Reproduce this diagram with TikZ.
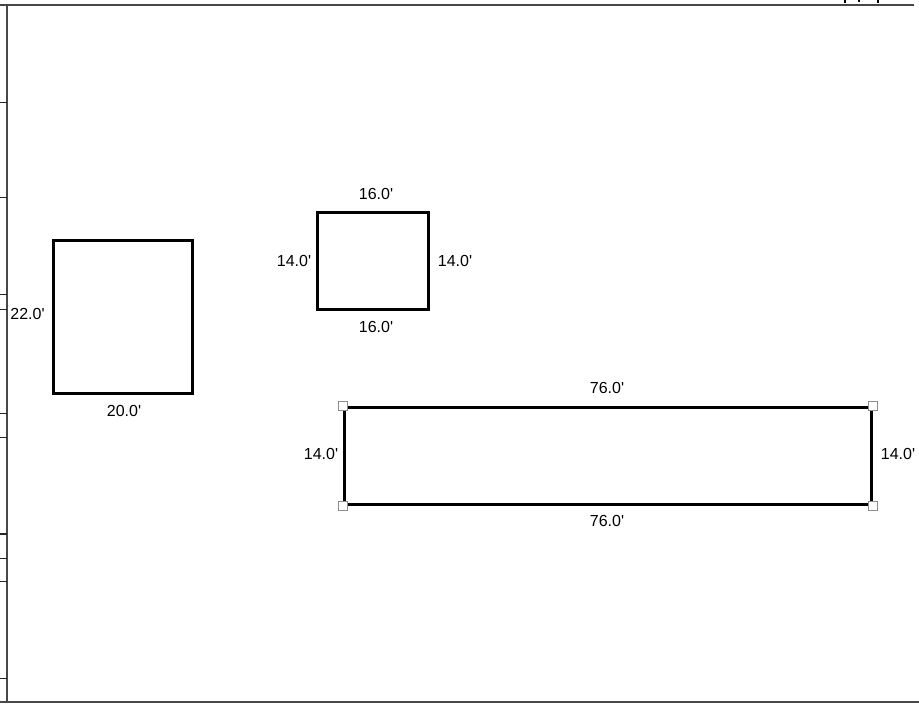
\documentclass[tikz,border=0pt]{standalone}
\usepackage{fontspec}
\setmainfont{Liberation Sans}
\begin{document}
\begin{tikzpicture}[x=1pt,y=-1pt,
  lbl/.style={font=\fontsize{16}{18}\selectfont, inner sep=0pt},
  room/.style={draw=black, line width=3pt, rectangle, inner sep=0pt},
  frame/.style={draw=black!72, line width=2pt},
  tick/.style={draw=black!85, line width=1.5pt},
  handle/.style={draw=black!45, fill=white, line width=1pt, rectangle, minimum size=9pt, inner sep=0pt}]
\useasboundingbox (0,0) rectangle (919,705);
% frame
\draw[frame] (0,5) -- (914,5);
\draw[frame] (6.5,6) -- (6.5,702);
\draw[frame] (0,701.5) -- (919,701.5);
\foreach \yy in {102.7,197.7,294.7,309.3,413.3,437.7,534,558.3,581.7,678.3}
  \draw[tick] (0,\yy) -- (7,\yy);
% cut-off text fragments at top right
\draw[black, line width=1.2pt] (845,0) -- (845,3);
\draw[black, line width=1.2pt] (859,0) -- (859,2);
\draw[black, line width=1.2pt] (878,0) -- (878,3);
% room A
\node[room, minimum width=139pt, minimum height=153pt] (roomA) at (122.5,316.5) {};
\node[lbl] (a22) at (27.5,314) {22.0\textquotesingle};
\node[lbl] (a20) at (124,411) {20.0\textquotesingle};
% room B
\node[room, minimum width=111pt, minimum height=97pt] (roomB) at (372.5,260.5) {};
\node[lbl] (btop) at (376,194) {16.0\textquotesingle};
\node[lbl] (bbot) at (376,327) {16.0\textquotesingle};
\node[lbl] (bl) at (294,261) {14.0\textquotesingle};
\node[lbl] (br) at (455,261) {14.0\textquotesingle};
% room C
\node[room, minimum width=527pt, minimum height=97pt] (roomC) at (607.5,455.5) {};
\node[lbl] (ctop) at (607,388) {76.0\textquotesingle};
\node[lbl] (cbot) at (607,521) {76.0\textquotesingle};
\node[lbl] (cl) at (321,454) {14.0\textquotesingle};
\node[lbl] (cr) at (898,454) {14.0\textquotesingle};
\node[handle] (h1) at (roomC.north west) {};
\node[handle] (h2) at (roomC.north east) {};
\node[handle] (h3) at (roomC.south west) {};
\node[handle] (h4) at (roomC.south east) {};
\end{tikzpicture}
\end{document}
